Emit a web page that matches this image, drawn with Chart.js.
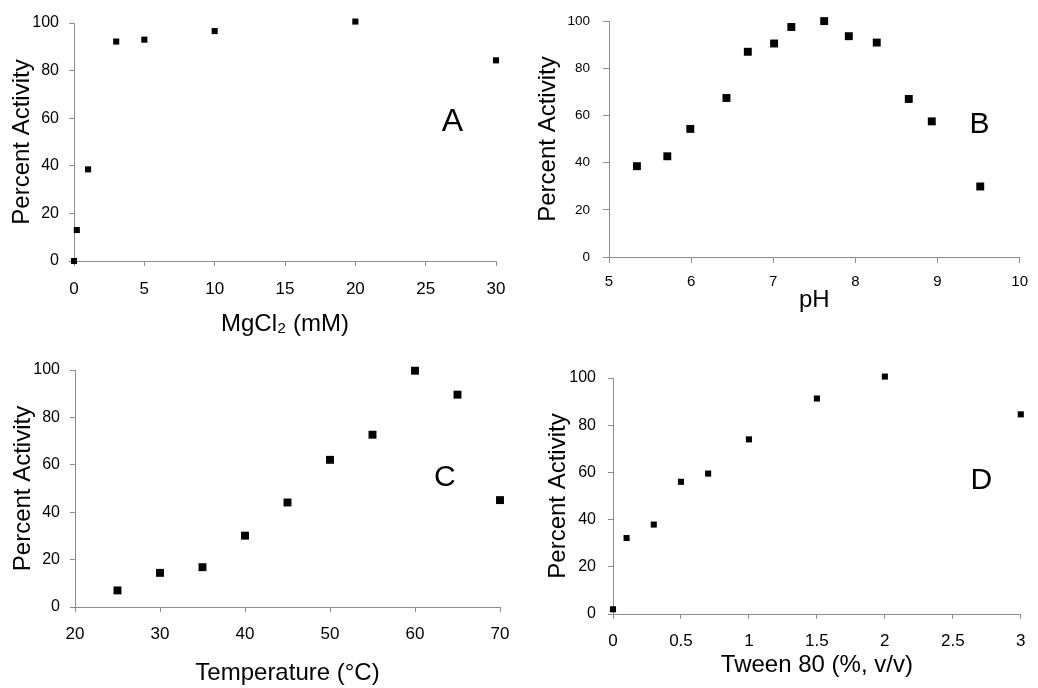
<!DOCTYPE html>
<html>
<head>
<meta charset="utf-8">
<script src="https://cdn.jsdelivr.net/npm/chart.js@4"></script>
<style>
  html, body { margin: 0; padding: 0; background: #fff; }
  #wrap { position: relative; width: 1038px; height: 688px; overflow: hidden; }
  canvas { position: absolute; left: 0; top: 0; }
</style>
</head>
<body>
<div id="wrap">
  <canvas id="cA" width="1038" height="688"></canvas>
  <canvas id="cB" width="1038" height="688"></canvas>
  <canvas id="cC" width="1038" height="688"></canvas>
  <canvas id="cD" width="1038" height="688"></canvas>
</div>
<script>
// ---- Data ----
const mgX = [0, 0.2, 1, 3, 5, 10, 20, 30];
const mgY = [0, 13, 38.5, 92.2, 93, 96.6, 100.6, 84.3];

const phX = [5.34, 5.71, 5.99, 6.43, 6.69, 7.01, 7.22, 7.62, 7.92, 8.26, 8.65, 8.93, 9.52];
const phY = [38.5, 42.7, 54.3, 67.4, 87, 90.5, 97.5, 100, 93.6, 90.9, 67, 57.5, 29.9];

const tempX = [25, 30, 35, 40, 45, 50, 55, 60, 65, 70];
const tempY = [7, 14.4, 16.8, 30.1, 44.1, 62.1, 72.7, 99.7, 89.6, 45.1];

const tweenX = [0, 0.1, 0.3, 0.5, 0.7, 1, 1.5, 2, 3];
const tweenY = [2, 32.2, 37.9, 56, 59.5, 74, 91.3, 100.6, 84.6];

const yTicks = [0, 20, 40, 60, 80, 100];
const mgTicks = [0, 5, 10, 15, 20, 25, 30];
const phTicks = [5, 6, 7, 8, 9, 10];
const tempTicks = [20, 30, 40, 50, 60, 70];
const tweenTicks = [0, 0.5, 1, 1.5, 2, 2.5, 3];

const yTitle = 'Percent Activity';
const xTitles = ['MgCl\u2082 (mM)', 'pH', 'Temperature (\u00B0C)', 'Tween 80 (%, v/v)'];
const panelLetters = ['A', 'B', 'C', 'D'];
// letter anchor in data coordinates
const letterPos = [[26.9, 58.4], [9.51, 55.9], [63.5, 54.4], [2.71, 56.3]];

// ---- Drawing ----
const FONT = "'Liberation Sans', Arial, Helvetica, sans-serif";
const AXIS = '#8c8c8c';

const letterPlugin = {
  id: 'panelLetter',
  afterDatasetsDraw(chart, args, opts) {
    const ctx = chart.ctx;
    const x = chart.scales.x.getPixelForValue(opts.pos[0]);
    const y = chart.scales.y.getPixelForValue(opts.pos[1]);
    ctx.save();
    ctx.fillStyle = '#000';
    ctx.font = opts.size + 'px ' + FONT;
    ctx.textAlign = 'center';
    ctx.textBaseline = 'middle';
    ctx.fillText(opts.text, x, y);
    ctx.restore();
  }
};

function makePanel(id, xs, ys, xTickVals, xMin, xMax, xTitle, letter, lpos, L) {
  const pts = xs.map((v, i) => ({ x: v, y: ys[i] }));
  new Chart(document.getElementById(id), {
    type: 'scatter',
    data: { datasets: [{
      data: pts,
      pointStyle: 'rect',
      pointRadius: L.r,
      pointHoverRadius: L.r,
      backgroundColor: '#000',
      borderColor: '#000',
      borderWidth: 0,
      clip: false
    }]},
    plugins: [letterPlugin],
    options: {
      responsive: false,
      animation: false,
      events: [],
      layout: { padding: { left: L.l0, top: L.top, right: 1038 - L.right, bottom: 688 - L.b0 } },
      plugins: {
        legend: { display: false },
        tooltip: { enabled: false },
        panelLetter: { text: letter, pos: lpos, size: L.ls }
      },
      scales: {
        x: {
          type: 'linear', min: xMin, max: xMax,
          afterBuildTicks: s => { s.ticks = xTickVals.map(v => ({ value: v })); },
          afterFit: s => { s.height = L.b0 - L.bottom; },
          grid: { drawOnChartArea: false, drawTicks: true, tickLength: L.tl, color: AXIS, lineWidth: 1 },
          border: { display: true, color: AXIS, width: 1 },
          ticks: { color: '#000', font: { family: FONT, size: L.xf }, padding: L.xp, maxRotation: 0,
                   callback: v => String(v) },
          title: { display: true, text: xTitle, color: '#000', font: { family: FONT, size: 24 },
                   padding: { top: 0, bottom: L.xtp } }
        },
        y: {
          type: 'linear', min: 0, max: 100,
          afterBuildTicks: s => { s.ticks = yTicks.map(v => ({ value: v })); },
          afterFit: s => { s.width = L.left - L.l0; },
          grid: { drawOnChartArea: false, drawTicks: true, tickLength: L.tl, color: AXIS, lineWidth: 1 },
          border: { display: true, color: AXIS, width: 1 },
          ticks: { color: '#000', font: { family: FONT, size: L.yf }, padding: L.yp,
                   callback: v => String(v) },
          title: { display: true, text: yTitle, color: '#000', font: { family: FONT, size: 24 },
                   padding: { top: L.ytp, bottom: 0 } }
        }
      }
    }
  });
}

makePanel('cA', mgX, mgY, mgTicks, 0, 30, xTitles[0], panelLetters[0], letterPos[0],
  { l0: 0, left: 74, top: 23, right: 496, bottom: 261, b0: 345, r: 4.3, tl: 5,
    xf: 17, xp: 13, yf: 16, yp: 10, xtp: 6.5, ytp: 7.5, ls: 32 });

makePanel('cB', phX, phY, phTicks, 5, 10, xTitles[1], panelLetters[1], letterPos[1],
  { l0: 520, left: 609, top: 19, right: 1029, bottom: 257, b0: 345, r: 5.6, tl: 6,
    xf: 15, xp: 10, yf: 13.5, yp: 13, xtp: 30.5, ytp: 13.5, ls: 30 });

makePanel('cC', tempX, tempY, tempTicks, 20, 70, xTitles[2], panelLetters[2], letterPos[2],
  { l0: 0, left: 75, top: 370, right: 500, bottom: 607, b0: 688, r: 5.6, tl: 5,
    xf: 17, xp: 12, yf: 16, yp: 10, xtp: 0, ytp: 8.5, ls: 30 });

makePanel('cD', tweenX, tweenY, tweenTicks, 0, 3, xTitles[3], panelLetters[3], letterPos[3],
  { l0: 520, left: 613, top: 378, right: 1033, bottom: 614, b0: 688, r: 4.3, tl: 5,
    xf: 17, xp: 12.5, yf: 16, yp: 12, xtp: 8.5, ytp: 23.5, ls: 30 });
</script>
</body>
</html>
